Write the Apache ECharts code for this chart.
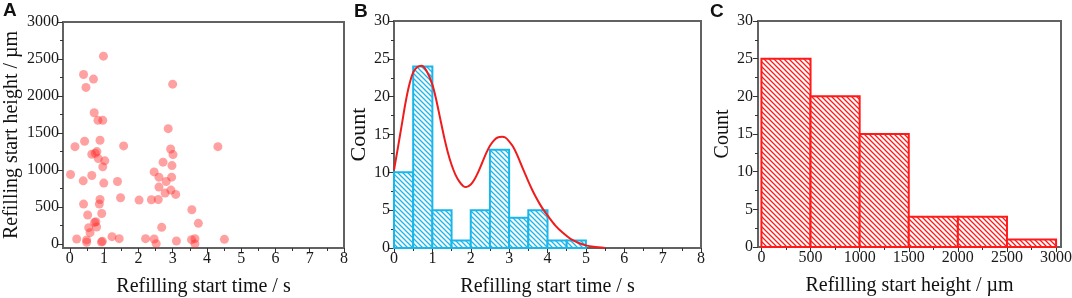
<!DOCTYPE html>
<html>
<head>
<meta charset="utf-8">
<title>Refilling start time / height</title>
<script src="https://cdn.jsdelivr.net/npm/echarts@6/dist/echarts.min.js"></script>
<style>html,body{margin:0;padding:0;background:#fff;}</style>
</head>
<body>
<div id="main" style="width:1072px;height:298px;"></div>
<script>
// panel A: scatter (time in s, height in um)
var scatterTime = [0.98, 0.40, 0.69, 0.47, 3.00, 0.71, 0.82, 0.96, 2.87, 0.15,
    0.43, 0.88, 1.57, 0.64, 0.74, 0.79, 0.83, 1.02, 0.96, 0.02,
    0.39, 0.64, 0.99, 1.39, 1.48, 0.40, 0.88, 0.86, 0.93, 0.52,
    0.72, 0.76, 0.55, 0.78, 0.59, 0.20, 0.49, 0.49, 0.92, 0.95,
    1.23, 1.44, 2.02, 2.38, 2.58, 2.21, 2.46, 2.52, 2.68, 2.46,
    2.60, 2.72, 2.81, 2.60, 2.78, 2.94, 3.01, 2.98, 2.97, 2.95,
    3.09, 3.11, 3.56, 3.75, 3.55, 3.65, 3.65, 4.32, 4.51];
var scatterHeight = [2538, 2291, 2228, 2116, 2160, 1774, 1671, 1671, 1558, 1315,
    1388, 1401, 1325, 1213, 1226, 1248, 1154, 1123, 1042, 938,
    853, 925, 822, 844, 624, 539, 601, 539, 412, 391,
    291, 300, 220, 229, 152, 67, 54, 22, 25, 35,
    98, 71, 593, 597, 601, 71, 67, 4, 224, 974,
    903, 1105, 844, 768, 687, 1284, 1208, 1059, 903, 728,
    669, 40, 462, 278, 58, 71, 0, 1315, 62];

// panel B: histogram of time + fitted curve
var timeEdges = [0, 0.5, 1, 1.5, 2, 2.5, 3, 3.5, 4, 4.5, 5];
var timeCounts = [10, 24, 5, 1, 5, 13, 4, 5, 1, 1];
var fitTime = [0, 0.1, 0.2, 0.3, 0.4, 0.5, 0.6, 0.72, 0.85, 1.0, 1.1, 1.2, 1.3, 1.4, 1.5, 1.6,
    1.7, 1.8, 1.88, 2.0, 2.1, 2.2, 2.3, 2.4, 2.5, 2.6, 2.7, 2.82, 2.9, 3.0, 3.1, 3.2,
    3.3, 3.4, 3.5, 3.6, 3.7, 3.8, 3.9, 4.0, 4.2, 4.4, 4.6, 4.8, 5.0, 5.2, 5.5];
var fitCount = [10.3, 13.2, 16.2, 19.2, 21.6, 23.2, 23.9, 24.1, 23.4, 21.6, 19.6, 17.2, 14.8, 12.7, 11.0, 9.7,
    8.8, 8.2, 8.05, 8.4, 9.1, 10.1, 11.3, 12.5, 13.5, 14.2, 14.6, 14.7, 14.6, 14.1, 13.4, 12.4,
    11.2, 10.0, 8.8, 7.7, 6.7, 5.8, 5.0, 4.3, 3.0, 2.0, 1.2, 0.7, 0.35, 0.15, 0];

// panel C: histogram of height
var heightEdges = [0, 500, 1000, 1500, 2000, 2500, 3000];
var heightCounts = [25, 20, 15, 4, 4, 1];

// tick labels
var timeTicks = [0, 1, 2, 3, 4, 5, 6, 7, 8];
var timeMinor = [0.5, 1.5, 2.5, 3.5, 4.5, 5.5, 6.5, 7.5];
var heightTicks = [0, 500, 1000, 1500, 2000, 2500, 3000];
var heightMinor = [250, 750, 1250, 1750, 2250, 2750];

var serif = "Liberation Serif";
var frame = '#626262';
var red = '#ff1a1a';
var cyan = '#1ab6ea';

function hatch(color) {
    var s = 5;
    var c = document.createElement('canvas');
    c.width = s; c.height = s;
    var g = c.getContext('2d');
    g.fillStyle = '#fff';
    g.fillRect(0, 0, s, s);
    g.strokeStyle = color;
    g.lineWidth = 1.3;
    g.beginPath();
    g.moveTo(-1, -1); g.lineTo(s + 1, s + 1);
    g.moveTo(-1, s - 1); g.lineTo(1, s + 1);
    g.moveTo(s - 1, -1); g.lineTo(s + 1, 1);
    g.stroke();
    return { image: c, repeat: 'repeat' };
}

function binData(edges, counts) {
    return counts.map(function (n, i) { return [edges[i], edges[i + 1], n]; });
}

function histRender(color) {
    var pat = hatch(color);
    return function (params, api) {
        var p0 = api.coord([api.value(0), api.value(2)]);
        var p1 = api.coord([api.value(1), 0]);
        return {
            type: 'rect',
            shape: { x: p0[0], y: p0[1], width: p1[0] - p0[0], height: p1[1] - p0[1] },
            style: { fill: pat, stroke: color, lineWidth: 2 }
        };
    };
}

function plain(v) { return String(v); }

function mainAxis(o) {
    var ax = {
        type: 'value',
        gridIndex: o.grid,
        min: o.min,
        max: o.max,
        position: o.pos,
        name: o.name,
        nameLocation: 'middle',
        nameGap: o.gap,
        nameTextStyle: { fontFamily: serif, fontSize: o.nameSize || 20, color: '#111' },
        axisLine: { show: true, onZero: false, lineStyle: { color: frame, width: 2 } },
        axisTick: { show: true, length: 5, lineStyle: { color: '#333', width: 1 } },
        axisLabel: {
            fontFamily: serif, fontSize: 16, color: '#1a1a1a', margin: o.margin,
            formatter: plain, showMinLabel: true, showMaxLabel: true, hideOverlap: false
        },
        splitLine: { show: false }
    };
    if (o.ticks) {
        ax.axisLabel.customValues = o.ticks;
        ax.axisTick.customValues = o.ticks;
    } else {
        ax.interval = o.interval;
        ax.minorTick = { show: true, splitNumber: 2, length: 3, lineStyle: { color: '#333', width: 1 } };
    }
    return ax;
}

function minorAxis(o) {
    return {
        type: 'value',
        gridIndex: o.grid,
        min: o.min,
        max: o.max,
        position: o.pos,
        axisLine: { show: false, onZero: false },
        axisTick: { show: true, length: 3, customValues: o.ticks, lineStyle: { color: '#333', width: 1 } },
        axisLabel: { show: false },
        splitLine: { show: false }
    };
}

var dom = document.getElementById('main');
var myChart = echarts.init(dom, null, { renderer: 'canvas' });

var gridBase = { show: true, borderColor: frame, borderWidth: 2, backgroundColor: 'transparent',
    containLabel: false, outerBoundsMode: 'none' };

var option = {
    animation: false,
    backgroundColor: '#fff',
    textStyle: { fontFamily: serif },
    title: [
        { text: 'A', left: 3, top: 1, padding: 0,
          textStyle: { fontFamily: 'Liberation Sans', fontWeight: 'bold', fontSize: 19, color: '#111' } },
        { text: 'B', left: 354, top: 2, padding: 0,
          textStyle: { fontFamily: 'Liberation Sans', fontWeight: 'bold', fontSize: 19, color: '#111' } },
        { text: 'C', left: 710, top: 2, padding: 0,
          textStyle: { fontFamily: 'Liberation Sans', fontWeight: 'bold', fontSize: 19, color: '#111' } }
    ],
    grid: [
        Object.assign({ left: 63, right: 728, top: 22, bottom: 50 }, gridBase),
        Object.assign({ left: 394, right: 371, top: 21, bottom: 50 }, gridBase),
        Object.assign({ left: 758, right: 11, top: 21, bottom: 51 }, gridBase)
    ],
    xAxis: [
        mainAxis({ grid: 0, min: -0.2, max: 8, pos: 'bottom', ticks: timeTicks, name: 'Refilling start time / s', gap: 29, margin: 3 }),
        minorAxis({ grid: 0, min: -0.2, max: 8, pos: 'bottom', ticks: timeMinor }),
        mainAxis({ grid: 1, min: 0, max: 8, pos: 'bottom', interval: 1, name: 'Refilling start time / s', gap: 29, margin: 3 }),
        mainAxis({ grid: 2, min: -35, max: 3050, pos: 'bottom', ticks: heightTicks, name: 'Refilling start height / \u00b5m', gap: 29, margin: 3 }),
        minorAxis({ grid: 2, min: -35, max: 3050, pos: 'bottom', ticks: heightMinor })
    ],
    yAxis: [
        mainAxis({ grid: 0, min: -55, max: 3000, pos: 'left', ticks: heightTicks, name: 'Refilling start height / \u00b5m', gap: 41, margin: 4 }),
        minorAxis({ grid: 0, min: -55, max: 3000, pos: 'left', ticks: heightMinor }),
        mainAxis({ grid: 1, min: 0, max: 30, pos: 'left', interval: 5, name: 'Count', gap: 23, margin: 4, nameSize: 22 }),
        mainAxis({ grid: 2, min: 0, max: 30, pos: 'left', interval: 5, name: 'Count', gap: 25, margin: 5, nameSize: 20 })
    ],
    series: [
        {
            type: 'scatter',
            xAxisIndex: 0, yAxisIndex: 0,
            symbolSize: 9,
            itemStyle: { color: 'rgba(255, 40, 40, 0.55)' },
            data: scatterTime.map(function (t, i) { return [t, scatterHeight[i]]; })
        },
        {
            type: 'custom',
            xAxisIndex: 2, yAxisIndex: 2,
            renderItem: histRender(cyan),
            encode: { x: [0, 1], y: 2 },
            data: binData(timeEdges, timeCounts),
            z: 2
        },
        {
            type: 'line',
            xAxisIndex: 2, yAxisIndex: 2,
            smooth: 0.3,
            showSymbol: false,
            lineStyle: { color: '#ee1c1c', width: 2 },
            data: fitTime.map(function (t, i) { return [t, fitCount[i]]; }),
            z: 3
        },
        {
            type: 'custom',
            xAxisIndex: 3, yAxisIndex: 3,
            renderItem: histRender(red),
            encode: { x: [0, 1], y: 2 },
            data: binData(heightEdges, heightCounts),
            z: 2
        }
    ]
};

myChart.setOption(option);
</script>
</body>
</html>
